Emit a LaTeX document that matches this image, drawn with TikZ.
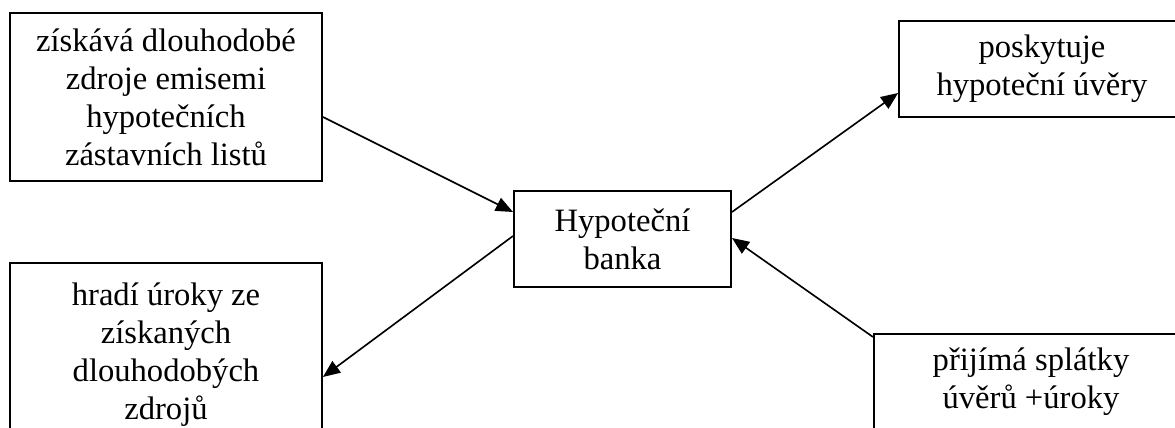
\documentclass[tikz,border=0pt]{standalone}
\usepackage{fontspec}
\setmainfont{Liberation Serif}
\usetikzlibrary{arrows.meta,calc}
\tikzset{box/.style={draw,line width=0.7pt,align=center,inner sep=0pt,font=\fontsize{12}{14}\selectfont},
  arr/.style={-{Triangle[length=6.3pt,width=5.2pt]},line width=0.6pt}}

\begin{document}
\begin{tikzpicture}[x=0.368pt,y=-0.368pt]
      \useasboundingbox (0,0) rectangle (1175,428);
      \clip (0,0) rectangle (1175,428);

      \node[box,minimum width=114.8pt,minimum height=61.8pt] (emise) at (166,97) {získává dlouhodobé\\zdroje emisemi\\hypotečních\\zástavních listů};
      \node[box,minimum width=114.8pt,minimum height=67.7pt] (uroky) at (166,355) {hradí úroky ze\\získaných\\dlouhodobých\\zdrojů};
      \node[box,minimum width=79.9pt,minimum height=35.3pt] (banka) at (622.5,239) {Hypoteční\\banka};
      \node[box,minimum width=105.2pt,minimum height=35.3pt] (uver) at (1042,69) {poskytuje\\hypoteční úvěry};
      \node[box,minimum width=115.6pt,minimum height=35.3pt] (splatky) at (1031,382) {přijímá splátky\\úvěrů +úroky};

      \draw[arr] ($(emise.east)+(0,20)$) -- ($(banka.west)+(0,-27)$);
      \draw[arr] ($(banka.west)+(0,-3)$) -- ($(uroky.east)+(0,22)$);
      \draw[arr] ($(banka.east)+(0,-27)$) -- ($(uver.west)+(0,24)$);
      \draw[arr] ($(splatky.west)+(0,-45)$) -- ($(banka.east)+(0,-1)$);
    \end{tikzpicture}
\end{document}
